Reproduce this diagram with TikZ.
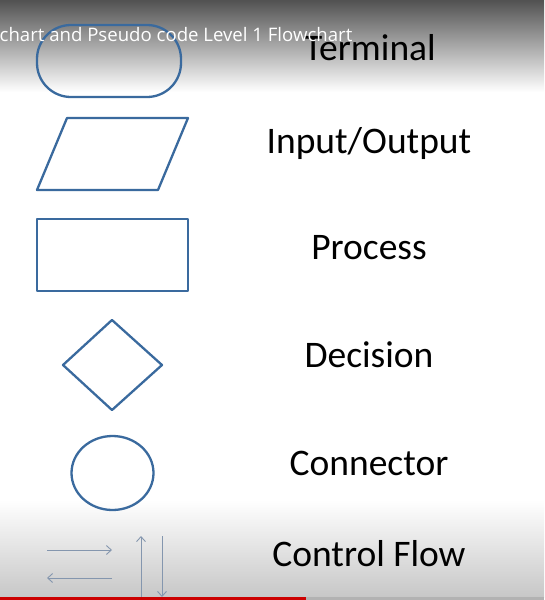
\documentclass[tikz,border=0pt]{standalone}
\usepackage{fontspec}
\setmainfont{Carlito}
\newfontfamily\ovfont{Open Sans}
\usetikzlibrary{arrows.meta}
\definecolor{shapeblue}{HTML}{3A6A9E}
\definecolor{arrowgray}{HTML}{8496AE}
\tikzset{
  shapeline/.style={draw=shapeblue, line width=2.3pt, line join=round},
  flowarrow/.style={draw=arrowgray, line width=0.9pt, -{Straight Barb[length=5pt,width=9pt]}},
  label/.style={font=\fontsize{37.5}{44}\selectfont, text=black, anchor=base, inner sep=0pt},
}
\begin{document}
\begin{tikzpicture}[x=1pt,y=-1pt]
\useasboundingbox (0,0) rectangle (544,600);
\fill[white] (0,0) rectangle (544,600);
\shade[top color=black!68, middle color=black!30, bottom color=white] (0,0) rectangle (544,92);
\shade[top color=white, bottom color=black!22] (0,500) rectangle (544,597);
\fill[black!30] (0,597) rectangle (544,600);
\fill[red!80!black] (0,596.5) rectangle (306,600);
% shapes
\draw[shapeline, rounded corners=34pt] (37,25) rectangle (181,97);
\draw[shapeline] (67,118) -- (188,118) -- (158,190) -- (37,190) -- cycle;
\draw[shapeline] (37,219) rectangle (188,291);
\draw[shapeline] (112,320) -- (162,365) -- (112,410) -- (63,365) -- cycle;
\draw[shapeline] (112.5,473) ellipse [x radius=41pt, y radius=37pt];
% arrows
\coordinate (r1) at (47,550); \coordinate (r2) at (112,550);
\coordinate (l1) at (112,578); \coordinate (l2) at (47,578);
\coordinate (u1) at (141,597); \coordinate (u2) at (141,536);
\coordinate (d1) at (162,536); \coordinate (d2) at (162,597);
\draw[flowarrow] (r1) -- (r2);
\draw[flowarrow] (l1) -- (l2);
\draw[flowarrow] (u1) -- (u2);
\draw[flowarrow] (d1) -- (d2);
% labels
\node[label] (t1) at (370,60) {Terminal};
\node[label] (t2) at (369,153) {Input/Output};
\node[label] (t3) at (369,259) {Process};
\node[label] (t4) at (369,367) {Decision};
\node[label] (t5) at (369,475) {Connector};
\node[label] (t6) at (369,566) {Control Flow};
% overlay title
\node[font=\ovfont\fontsize{18.6}{22}\selectfont, text=white, anchor=base east, inner sep=0pt] (ov) at (352.5,41) {chart and Pseudo code Level 1 Flowchart};
\end{tikzpicture}
\end{document}
